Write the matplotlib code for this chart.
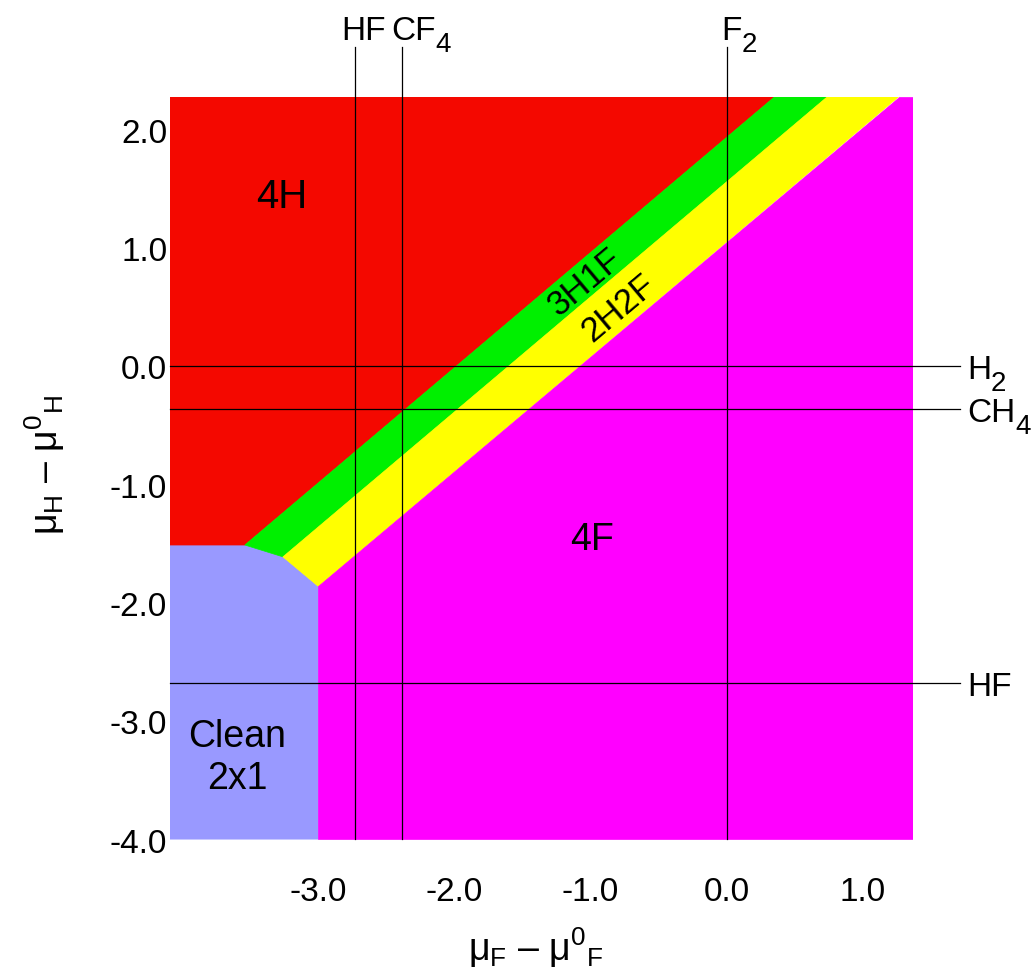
import matplotlib
matplotlib.use("Agg")
import matplotlib.pyplot as plt
from matplotlib.patches import Polygon

plt.rcParams['font.family'] = ['Liberation Sans', 'DejaVu Sans']
plt.rcParams['mathtext.fontset'] = 'custom'
plt.rcParams['mathtext.rm'] = 'Liberation Sans'
plt.rcParams['mathtext.it'] = 'Liberation Sans'
plt.rcParams['mathtext.bf'] = 'Liberation Sans:bold'
plt.rcParams['axes.unicode_minus'] = False

# ---- data ----
x_min, x_max = -4.09, 1.367
y_min, y_max = -3.995, 2.28

# region boundary vertices (mu_F, mu_H)
clean_x = [-4.09, -3.54, -3.26, -3.0, -3.0, -4.09]
clean_y = [-1.51, -1.51, -1.61, -1.86, -3.995, -3.995]
h4_x = [-4.09, -3.54, 0.355, -4.09]
h4_y = [-1.51, -1.51, 2.28, 2.28]
h3f1_x = [-3.54, -3.26, 0.742, 0.355]
h3f1_y = [-1.51, -1.61, 2.28, 2.28]
h2f2_x = [-3.26, -3.0, 1.266, 0.742]
h2f2_y = [-1.61, -1.86, 2.28, 2.28]
f4_x = [-3.0, -3.0, 1.367, 1.367, 1.266]
f4_y = [-1.86, -3.995, -3.995, 2.28, 2.28]

region_colors = ['#9999FF', '#F40800', '#00F000', '#FFFF00', '#FF00FF']

# reference lines: (main text, subscript)
vline_x = [-2.729, -2.388, 0.0]
vline_main = ['HF', 'CF', 'F']
vline_sub = ['', '4', '2']
vline_label_x = [-2.829, -2.461, -0.037]
hline_y = [0.0, -0.363, -2.68]
hline_main = ['H', 'CH', 'HF']
hline_sub = ['2', '4', '']

xticks = [-3.0, -2.0, -1.0, 0.0, 1.0]
yticks = [2.0, 1.0, 0.0, -1.0, -2.0, -3.0, -4.0]

# region labels
region_text = ['4H', '4F', 'Clean\n2x1', '3H1F', '2H2F']
region_tx = [-3.27, -0.99, -3.596, -1.04, -0.795]
region_ty = [1.44, -1.46, -3.30, 0.72, 0.50]
region_rot = [0, 0, 0, 40, 40]
region_fs = [29, 27, 27, 25, 25]

# ---- plot ----
fig = plt.figure(figsize=(10.33, 9.78), dpi=100)
ax = fig.add_axes([170/1033, 1-840.7/978, 742.7/1033, 743.2/978])
ax.set_xlim(x_min, x_max)
ax.set_ylim(y_min, y_max)

polys = [(clean_x, clean_y), (h4_x, h4_y), (h3f1_x, h3f1_y), (h2f2_x, h2f2_y), (f4_x, f4_y)]
for (px, py), c in zip(polys, region_colors):
    ax.add_patch(Polygon(list(zip(px, py)), closed=True, facecolor=c, edgecolor=c, lw=0.5, zorder=1))

FS_LAB = 24
FS_SUB = 20


def label_with_sub(x, y, main, sub):
    t = ax.text(x, y, main, fontsize=FS_LAB, ha='left', va='baseline', clip_on=False)
    if sub:
        ax.annotate(sub, xy=(1, 0), xycoords=t, xytext=(-0.5, -3.6),
                    textcoords='offset points', fontsize=FS_SUB,
                    ha='left', va='baseline', annotation_clip=False)
    return t


top_ext = 2.70
right_ext = 1.714
for xv, m, s, lx in zip(vline_x, vline_main, vline_sub, vline_label_x):
    ax.plot([xv, xv], [y_min, top_ext], color='black', lw=0.9, clip_on=False, zorder=3)
    label_with_sub(lx, 2.765, m, s)
for yv, m, s in zip(hline_y, hline_main, hline_sub):
    ax.plot([x_min, right_ext], [yv, yv], color='black', lw=0.9, clip_on=False, zorder=3)
    label_with_sub(1.77, yv - 0.10, m, s)

for t, tx, ty, r, fs in zip(region_text, region_tx, region_ty, region_rot, region_fs):
    ax.text(tx, ty, t, fontsize=fs, ha='center', va='center', rotation=r,
            rotation_mode='anchor', linespacing=1.2, zorder=4)

ax.set_xticks(xticks)
ax.set_xticklabels([f"{v:.1f}" for v in xticks])
ax.set_yticks(yticks)
ax.set_yticklabels([f"{v:.1f}" for v in yticks])
ax.tick_params(axis='both', length=0, labelsize=24)
ax.tick_params(axis='x', pad=26)
ax.tick_params(axis='y', pad=2)
for s in ax.spines.values():
    s.set_visible(False)

fig.text(536/1033, 1-948/978, 'μ$_\\mathrm{F}$ – μ$^0$$_{\\mathrm{F}}$', fontsize=27,
         ha='center', va='center')
fig.text(45/1033, 1-465/978, 'μ$_\\mathrm{H}$ – μ$^0$$_{\\mathrm{H}}$', fontsize=27,
         ha='center', va='center', rotation=90)

fig.savefig('out.png', dpi=100)
